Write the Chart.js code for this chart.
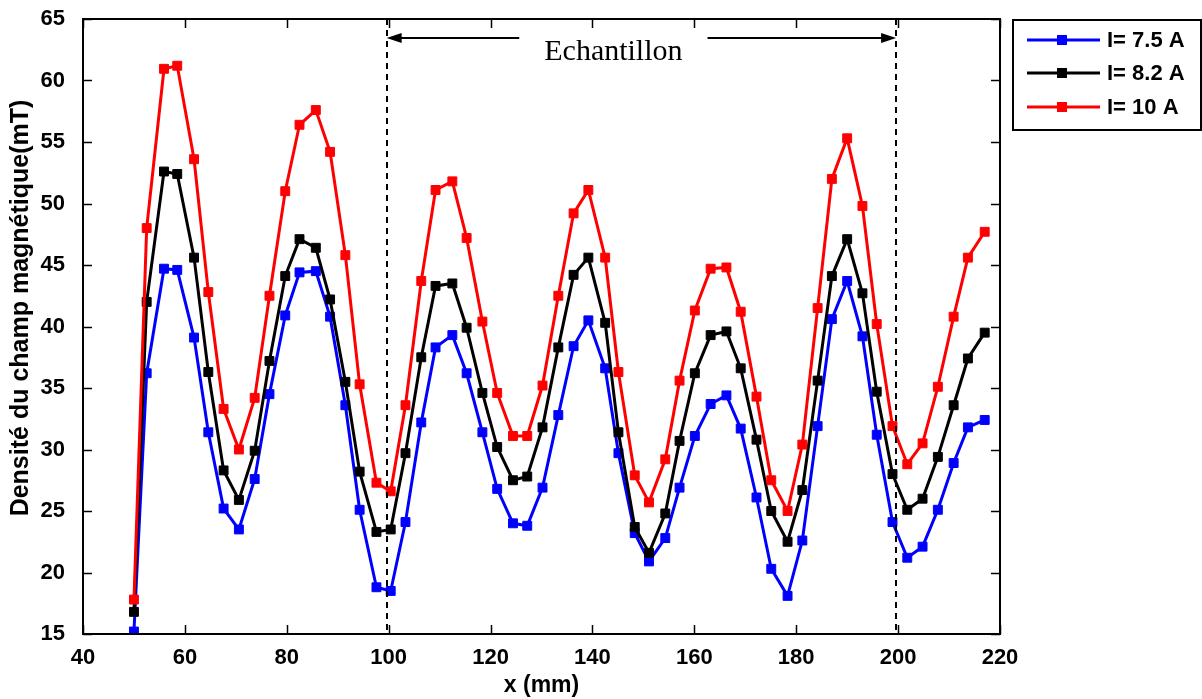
<!DOCTYPE html>
<html>
<head>
<meta charset="utf-8">
<title>Densité du champ magnétique</title>
<script src="https://cdn.jsdelivr.net/npm/chart.js@4.4.1/dist/chart.umd.min.js"></script>
<style>
  body { margin: 0; background: #fff; }
  canvas { display: block; }
</style>
</head>
<body>
<canvas id="fieldChart" width="1202" height="699"></canvas>
<script>
// positions des mesures (mm)
const xPos = [50, 52.5, 55.9, 58.5, 61.8, 64.6, 67.6, 70.6, 73.7, 76.6,
  79.7, 82.5, 85.7, 88.5, 91.5, 94.3, 97.6, 100.4, 103.3, 106.4,
  109.2, 112.5, 115.3, 118.4, 121.3, 124.4, 127.2, 130.2, 133.3, 136.3,
  139.2, 142.5, 145.1, 148.3, 151.1, 154.3, 157.1, 160.1, 163.2, 166.3,
  169.1, 172.2, 175.1, 178.3, 181.2, 184.2, 187.0, 190.0, 193.0, 195.8,
  198.9, 201.8, 204.8, 207.8, 210.9, 213.7, 217.0];

const b75 = [15.2, 36.2, 44.7, 44.6, 39.1, 31.4, 25.2, 23.5, 27.6, 34.5,
  40.9, 44.4, 44.5, 40.8, 33.6, 25.1, 18.8, 18.5, 24.1, 32.2,
  38.3, 39.3, 36.2, 31.4, 26.8, 24.0, 23.8, 26.9, 32.8, 38.4,
  40.5, 36.6, 29.7, 23.2, 20.9, 22.8, 26.9, 31.1, 33.7, 34.4,
  31.7, 26.1, 20.3, 18.1, 22.6, 31.9, 40.6, 43.7, 39.2, 31.2,
  24.1, 21.2, 22.1, 25.1, 28.9, 31.8, 32.4];

const b82 = [16.8, 42.0, 52.6, 52.4, 45.6, 36.3, 28.3, 25.9, 29.9, 37.2,
  44.1, 47.1, 46.4, 42.2, 35.5, 28.2, 23.3, 23.5, 29.7, 37.5,
  43.3, 43.5, 39.9, 34.6, 30.2, 27.5, 27.8, 31.8, 38.3, 44.2,
  45.6, 40.3, 31.4, 23.7, 21.6, 24.8, 30.7, 36.2, 39.3, 39.6,
  36.6, 30.8, 25.0, 22.5, 26.7, 35.6, 44.1, 47.1, 42.7, 34.7,
  28.0, 25.1, 26.0, 29.4, 33.6, 37.4, 39.5];

const b10 = [17.8, 48.0, 60.95, 61.2, 53.6, 42.8, 33.3, 30.0, 34.2, 42.5,
  51.0, 56.4, 57.6, 54.2, 45.8, 35.3, 27.3, 26.6, 33.6, 43.7,
  51.1, 51.8, 47.2, 40.4, 34.6, 31.1, 31.1, 35.2, 42.5, 49.2,
  51.1, 45.6, 36.3, 27.9, 25.7, 29.2, 35.6, 41.3, 44.7, 44.8,
  41.2, 34.3, 27.5, 25.0, 30.4, 41.5, 52.0, 55.3, 49.8, 40.2,
  31.9, 28.8, 30.5, 35.1, 40.8, 45.6, 47.7];

const seriesNames = ['I= 7.5 A', 'I= 8.2 A', 'I= 10 A'];
const seriesColors = ['#0000ff', '#000000', '#ff0000'];
const xTicks = [40, 60, 80, 100, 120, 140, 160, 180, 200, 220];
const yTicks = [15, 20, 25, 30, 35, 40, 45, 50, 55, 60, 65];
const sampleLimits = [100, 200];
const sampleLabel = 'Echantillon';
const yTitle = 'Densité du champ magnétique(mT)';

function toPoints(vals) {
  return vals.map((v, i) => ({ x: xPos[i], y: v }));
}

const tickFont = { family: 'Liberation Sans, Arial, sans-serif', size: 22, weight: 'bold' };

// cadre, graduations intérieures, échantillon et légende
const decorPlugin = {
  id: 'decor',
  afterDatasetsDraw(chart) {
    const ctx = chart.ctx;
    const area = chart.chartArea;
    const xs = chart.scales.x;
    const ys = chart.scales.y;
    ctx.save();

    // titre de l'axe y
    ctx.save();
    ctx.translate(21, 308);
    ctx.rotate(-Math.PI / 2);
    ctx.font = 'bold 25px "Liberation Sans", Arial, sans-serif';
    ctx.fillStyle = '#000';
    ctx.textAlign = 'center';
    ctx.textBaseline = 'middle';
    ctx.fillText(yTitle, 0, 0);
    ctx.restore();

    // lignes pointillées
    ctx.strokeStyle = '#000';
    ctx.lineWidth = 2;
    ctx.setLineDash([6, 5]);
    sampleLimits.forEach(v => {
      const px = Math.round(xs.getPixelForValue(v)) - 2;
      ctx.beginPath();
      ctx.moveTo(px, area.top);
      ctx.lineTo(px, area.bottom);
      ctx.stroke();
    });
    ctx.setLineDash([]);

    // flèche
    const x1 = xs.getPixelForValue(sampleLimits[0]) - 2;
    const x2 = xs.getPixelForValue(sampleLimits[1]) - 2;
    const ay = area.top + 19;
    ctx.font = '30px "Liberation Serif", "Times New Roman", serif';
    ctx.fillStyle = '#000';
    ctx.textAlign = 'center';
    ctx.textBaseline = 'alphabetic';
    const mid = (x1 + x2) / 2 - 28;
    const tw = ctx.measureText(sampleLabel).width;
    ctx.fillText(sampleLabel, mid, ay + 22);
    ctx.lineWidth = 2;
    ctx.beginPath();
    ctx.moveTo(x1 + 4, ay); ctx.lineTo(mid - tw / 2 - 25, ay);
    ctx.moveTo(mid + tw / 2 + 25, ay); ctx.lineTo(x2 - 4, ay);
    ctx.stroke();
    ctx.beginPath();
    ctx.moveTo(x1, ay); ctx.lineTo(x1 + 15, ay - 5); ctx.lineTo(x1 + 15, ay + 5); ctx.closePath();
    ctx.moveTo(x2, ay); ctx.lineTo(x2 - 15, ay - 5); ctx.lineTo(x2 - 15, ay + 5); ctx.closePath();
    ctx.fill();

    // cadre
    ctx.lineWidth = 2;
    ctx.strokeRect(area.left, area.top, area.right - area.left, area.bottom - area.top);
    ctx.lineWidth = 1.5;
    ctx.beginPath();
    xTicks.forEach(t => {
      const px = Math.round(xs.getPixelForValue(t)) + 0.5;
      ctx.moveTo(px, area.bottom); ctx.lineTo(px, area.bottom - 9);
      ctx.moveTo(px, area.top); ctx.lineTo(px, area.top + 9);
    });
    yTicks.forEach(t => {
      const py = Math.round(ys.getPixelForValue(t)) + 0.5;
      ctx.moveTo(area.left, py); ctx.lineTo(area.left + 9, py);
      ctx.moveTo(area.right, py); ctx.lineTo(area.right - 9, py);
    });
    ctx.stroke();

    // légende
    const lx = area.right + 13, ly = 20, lw = 188, lh = 110;
    ctx.fillStyle = '#fff';
    ctx.fillRect(lx, ly, lw, lh);
    ctx.lineWidth = 2;
    ctx.strokeStyle = '#000';
    ctx.strokeRect(lx, ly, lw, lh);
    ctx.font = 'bold 22px "Liberation Sans", Arial, sans-serif';
    ctx.textAlign = 'left';
    ctx.textBaseline = 'middle';
    const rows = [40, 73, 107];
    seriesNames.forEach((name, i) => {
      const y = rows[i];
      ctx.strokeStyle = seriesColors[i];
      ctx.fillStyle = seriesColors[i];
      ctx.lineWidth = 3;
      ctx.beginPath();
      ctx.moveTo(lx + 14, y); ctx.lineTo(lx + 87, y);
      ctx.stroke();
      ctx.fillRect(lx + 44, y - 5, 10, 10);
      ctx.fillStyle = '#000';
      ctx.fillText(name, lx + 94, y + 1);
    });
    ctx.restore();
  }
};

const ctx = document.getElementById('fieldChart').getContext('2d');
new Chart(ctx, {
  type: 'line',
  data: {
    datasets: [b75, b82, b10].map((vals, i) => ({
      label: seriesNames[i],
      data: toPoints(vals),
      borderColor: seriesColors[i],
      backgroundColor: seriesColors[i],
      borderWidth: 3,
      pointStyle: 'rect',
      pointRadius: 6.3,
      pointBorderWidth: 1,
      tension: 0,
      order: 3 - i
    }))
  },
  options: {
    responsive: false,
    animation: false,
    layout: { padding: { left: 0, top: 19, right: 202, bottom: 0 } },
    plugins: {
      legend: { display: false },
      tooltip: { enabled: false }
    },
    scales: {
      x: {
        type: 'linear',
        min: 40,
        max: 220,
        afterBuildTicks: s => { s.ticks = xTicks.map(v => ({ value: v })); },
        afterFit: s => { s.height = 65; },
        grid: { display: false },
        border: { display: false },
        ticks: { color: '#000', font: tickFont, padding: 3, maxRotation: 0 },
        title: {
          display: true,
          text: 'x (mm)',
          color: '#000',
          font: { family: 'Liberation Sans, Arial, sans-serif', size: 23, weight: 'bold' },
          padding: 0
        }
      },
      y: {
        min: 15,
        max: 65,
        afterBuildTicks: s => { s.ticks = yTicks.map(v => ({ value: v })); },
        afterFit: s => { s.width = 83; s.paddingTop = 0; s.paddingBottom = 0; },
        grid: { display: false },
        border: { display: false },
        ticks: { color: '#000', font: tickFont, padding: 10 }
      }
    }
  },
  plugins: [decorPlugin]
});
</script>
</body>
</html>
